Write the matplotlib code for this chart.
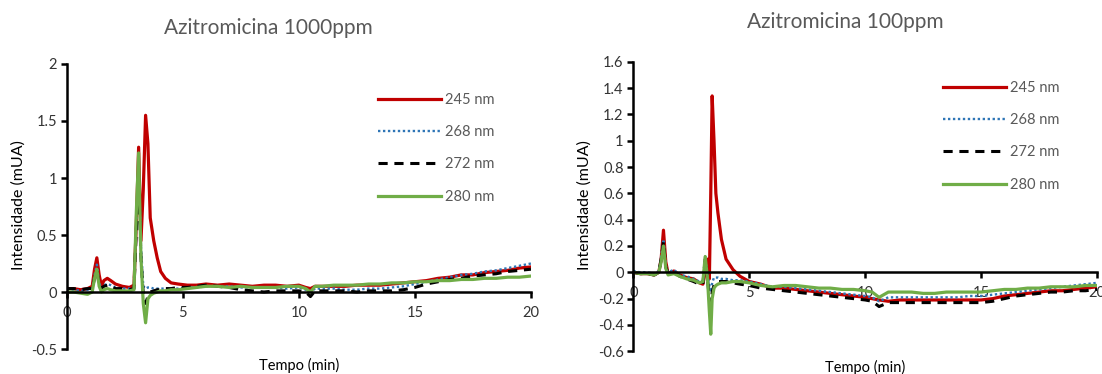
import numpy as np
import matplotlib.pyplot as plt

plt.rcParams['font.family'] = ['Lato', 'DejaVu Sans']

# ---- Azitromicina 1000ppm ----
t_a = [0, 0.3, 0.6, 0.9, 1.1, 1.2, 1.3, 1.4, 1.5, 1.6,
       1.75, 1.9, 2.1, 2.4, 2.7, 2.9, 3.0, 3.1, 3.2, 3.3,
       3.4, 3.5, 3.6, 3.75, 3.9, 4.05, 4.25, 4.5, 4.8, 5.2,
       5.6, 6.0, 6.5, 7.0, 7.5, 8.0, 8.5, 9.0, 9.5, 10.0,
       10.3, 10.5, 10.7, 11.0, 11.5, 12.0, 12.5, 13.0, 13.5, 14.0,
       14.5, 15.0, 15.5, 16.0, 16.5, 17.0, 17.5, 18.0, 18.5, 19.0,
       19.5, 20.0]
a_245 = [0.03, 0.03, 0.02, 0.03, 0.05, 0.20, 0.30, 0.15, 0.05, 0.10,
         0.12, 0.10, 0.07, 0.05, 0.04, 0.06, 0.60, 1.27, 0.45, 0.90,
         1.55, 1.30, 0.65, 0.45, 0.30, 0.18, 0.12, 0.08, 0.07, 0.06,
         0.06, 0.07, 0.06, 0.07, 0.06, 0.05, 0.06, 0.06, 0.05, 0.06,
         0.04, 0.03, 0.05, 0.05, 0.05, 0.05, 0.06, 0.06, 0.06, 0.07,
         0.08, 0.09, 0.10, 0.12, 0.13, 0.15, 0.15, 0.17, 0.18, 0.19,
         0.21, 0.22]
a_268 = [0.02, 0.02, 0.01, 0.02, 0.03, 0.15, 0.24, 0.08, 0.03, 0.06,
         0.07, 0.06, 0.04, 0.03, 0.03, 0.04, 0.60, 1.15, 0.40, 0.05,
         0.03, 0.04, 0.04, 0.03, 0.03, 0.03, 0.03, 0.03, 0.03, 0.04,
         0.04, 0.05, 0.05, 0.05, 0.04, 0.04, 0.04, 0.04, 0.03, 0.04,
         0.02, 0.00, 0.03, 0.03, 0.03, 0.02, 0.02, 0.03, 0.03, 0.04,
         0.05, 0.07, 0.09, 0.11, 0.13, 0.15, 0.16, 0.18, 0.19, 0.21,
         0.23, 0.25]
a_272 = [0.03, 0.03, 0.02, 0.03, 0.03, 0.12, 0.20, 0.06, 0.03, 0.05,
         0.06, 0.05, 0.03, 0.03, 0.02, 0.03, 0.55, 1.00, 0.30, -0.02,
         -0.10, -0.04, 0.00, 0.01, 0.02, 0.02, 0.03, 0.03, 0.04, 0.04,
         0.05, 0.06, 0.05, 0.04, 0.02, 0.01, 0.00, 0.01, 0.01, 0.01,
         0.00, -0.04, 0.01, 0.01, 0.01, 0.01, 0.00, 0.01, 0.01, 0.01,
         0.02, 0.04, 0.07, 0.09, 0.11, 0.12, 0.14, 0.15, 0.16, 0.18,
         0.19, 0.20]
a_280 = [0.00, 0.00, -0.01, -0.02, 0.00, 0.12, 0.20, 0.05, 0.00, 0.02,
         0.03, 0.02, 0.01, 0.01, 0.01, 0.02, 0.70, 1.22, 0.30, -0.10,
         -0.27, -0.06, -0.03, -0.01, 0.00, 0.01, 0.01, 0.02, 0.02, 0.03,
         0.04, 0.05, 0.05, 0.04, 0.05, 0.04, 0.04, 0.04, 0.05, 0.05,
         0.03, 0.00, 0.05, 0.05, 0.06, 0.06, 0.06, 0.07, 0.07, 0.08,
         0.08, 0.09, 0.09, 0.10, 0.10, 0.11, 0.11, 0.12, 0.12, 0.13,
         0.13, 0.14]

# ---- Azitromicina 100ppm ----
t_b = [0, 0.3, 0.6, 0.9, 1.1, 1.2, 1.3, 1.4, 1.5, 1.75,
       2.0, 2.3, 2.6, 2.85, 3.0, 3.1, 3.2, 3.28, 3.34, 3.4,
       3.48, 3.56, 3.65, 3.8, 4.0, 4.3, 4.6, 5.0, 5.5, 6.0,
       6.5, 7.0, 7.5, 8.0, 8.5, 9.0, 9.5, 10.0, 10.3, 10.6,
       11.0, 11.5, 12.0, 12.5, 13.0, 13.5, 14.0, 14.5, 15.0, 15.5,
       16.0, 16.5, 17.0, 17.5, 18.0, 18.5, 19.0, 19.5, 20.0]
b_245 = [0.00, -0.01, -0.01, -0.02, 0.00, 0.10, 0.32, 0.08, -0.01, 0.01,
         -0.02, -0.04, -0.05, -0.08, -0.09, 0.00, 0.10, -0.05, 0.60, 1.34,
         1.00, 0.60, 0.45, 0.25, 0.10, 0.02, -0.03, -0.07, -0.09, -0.12,
         -0.12, -0.13, -0.14, -0.15, -0.16, -0.17, -0.18, -0.19, -0.20, -0.21,
         -0.22, -0.21, -0.21, -0.21, -0.21, -0.21, -0.21, -0.21, -0.21, -0.20,
         -0.18, -0.17, -0.16, -0.15, -0.14, -0.14, -0.13, -0.12, -0.11]
b_268 = [0.01, 0.00, 0.00, -0.01, 0.01, 0.12, 0.25, 0.05, 0.00, 0.02,
         -0.02, -0.03, -0.05, -0.07, -0.07, 0.12, -0.02, -0.10, -0.15, -0.08,
         -0.04, -0.04, -0.04, -0.05, -0.05, -0.06, -0.06, -0.07, -0.09, -0.11,
         -0.11, -0.12, -0.13, -0.14, -0.15, -0.16, -0.17, -0.18, -0.19, -0.22,
         -0.19, -0.19, -0.19, -0.19, -0.19, -0.19, -0.19, -0.18, -0.18, -0.17,
         -0.16, -0.15, -0.14, -0.13, -0.12, -0.11, -0.10, -0.09, -0.08]
b_272 = [0.00, -0.01, -0.01, -0.02, 0.00, 0.10, 0.23, 0.04, -0.01, 0.00,
         -0.03, -0.05, -0.07, -0.09, -0.09, 0.10, -0.05, -0.20, -0.30, -0.15,
         -0.10, -0.08, -0.07, -0.07, -0.07, -0.08, -0.09, -0.10, -0.12, -0.13,
         -0.14, -0.15, -0.16, -0.17, -0.18, -0.19, -0.20, -0.21, -0.22, -0.26,
         -0.23, -0.23, -0.23, -0.23, -0.23, -0.23, -0.23, -0.23, -0.23, -0.22,
         -0.20, -0.18, -0.17, -0.16, -0.15, -0.15, -0.14, -0.14, -0.13]
b_280 = [0.00, -0.01, -0.01, -0.02, 0.00, 0.08, 0.20, 0.03, -0.02, -0.01,
         -0.03, -0.05, -0.06, -0.08, -0.07, 0.12, -0.05, -0.30, -0.47, -0.20,
         -0.12, -0.10, -0.09, -0.08, -0.08, -0.07, -0.07, -0.08, -0.10, -0.11,
         -0.10, -0.10, -0.11, -0.12, -0.12, -0.13, -0.13, -0.14, -0.15, -0.19,
         -0.15, -0.15, -0.15, -0.16, -0.16, -0.15, -0.15, -0.15, -0.15, -0.14,
         -0.13, -0.13, -0.12, -0.12, -0.11, -0.11, -0.11, -0.10, -0.10]

labels = ['245 nm', '268 nm', '272 nm', '280 nm']
gray = '#595959'

fig = plt.figure(figsize=(11.02, 3.74), dpi=100)
ax1 = fig.add_axes([0.0605, 0.0668, 0.4213, 0.7621])
ax2 = fig.add_axes([0.5747, 0.0607, 0.4208, 0.7743])


def draw(ax, t, s245, s268, s272, s280):
    ax.plot(t, s245, color='#C00000', lw=2.3, label=labels[0])
    ax.plot(t, s268, color='#2E75B6', lw=1.7, ls=(0, (1, 1.1)), label=labels[1])
    ax.plot(t, s272, color='black', lw=2.2, ls=(0, (3, 2.2)), label=labels[2])
    ax.plot(t, s280, color='#70AD47', lw=2.3, label=labels[3])
    ax.set_xlim(0, 20)
    ax.set_xticks([0, 5, 10, 15, 20])
    ax.set_xticklabels(['0', '5', '10', '15', '20'])
    for s in ['top', 'right']:
        ax.spines[s].set_visible(False)
    ax.spines['bottom'].set_position(('data', 0))
    ax.spines['left'].set_linewidth(1.8)
    ax.spines['bottom'].set_linewidth(1.8)
    ax.tick_params(axis='both', direction='out', length=4, width=1.8,
                   labelsize=10.5, colors='black', labelcolor='#333333')
    ax.tick_params(axis='x', pad=6)
    ax.tick_params(axis='y', pad=3)


draw(ax1, t_a, a_245, a_268, a_272, a_280)
ax1.set_ylim(-0.5, 2)
ax1.set_yticks([-0.5, 0, 0.5, 1, 1.5, 2])
ax1.set_yticklabels(['-0.5', '0', '0.5', '1', '1.5', '2'])

draw(ax2, t_b, b_245, b_268, b_272, b_280)
ax2.set_ylim(-0.6, 1.6)
ax2.set_yticks([-0.6, -0.4, -0.2, 0, 0.2, 0.4, 0.6, 0.8, 1, 1.2, 1.4, 1.6])
ax2.set_yticklabels(['-0.6', '-0.4', '-0.2', '0', '0.2', '0.4', '0.6', '0.8',
                     '1', '1.2', '1.4', '1.6'])

# titles and axis labels
fig.text(268 / 1102, 1 - 28 / 374, 'Azitromicina 1000ppm', ha='center', va='center',
         fontsize=15, color=gray)
fig.text(845 / 1102, 1 - 22 / 374, 'Azitromicina 100ppm', ha='center', va='center',
         fontsize=15, color=gray)
fig.text(299 / 1102, 1 - 365 / 374, 'Tempo (min)', ha='center', va='center',
         fontsize=10.5, color='black')
fig.text(865 / 1102, 1 - 367 / 374, 'Tempo (min)', ha='center', va='center',
         fontsize=10.5, color='black')
fig.text(19 / 1102, 1 - 205 / 374, 'Intensidade (mUA)', ha='center', va='center',
         rotation=90, fontsize=11.5, color='black')
fig.text(585 / 1102, 1 - 205 / 374, 'Intensidade (mUA)', ha='center', va='center',
         rotation=90, fontsize=11.5, color='black')

# legends
for ax, x0, y0 in [(ax1, 378, 93), (ax2, 943, 81)]:
    leg = ax.legend(loc='upper left', bbox_to_anchor=(x0 / 1102, 1 - y0 / 374),
                    bbox_transform=fig.transFigure, frameon=False, fontsize=10.5,
                    handlelength=4.3, handletextpad=0.3, labelspacing=1.25,
                    borderpad=0, borderaxespad=0)
    for txt in leg.get_texts():
        txt.set_color(gray)

fig.savefig('out.png', dpi=100)
